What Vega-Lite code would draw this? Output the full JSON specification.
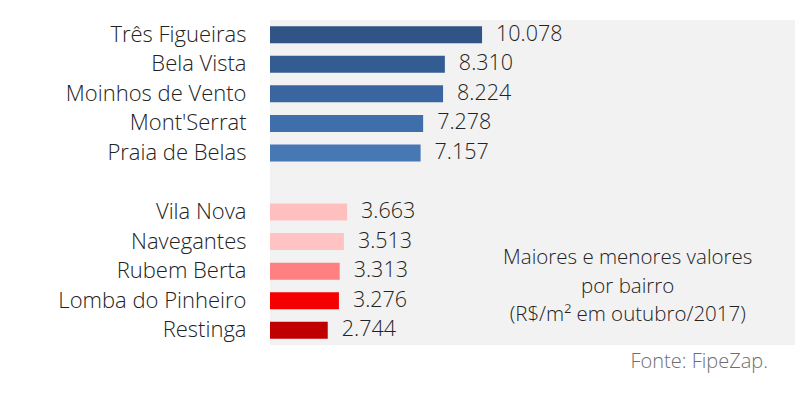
{
  "$schema": "https://vega.github.io/schema/vega-lite/v6.json",
  "width": 525,
  "height": 325,
  "padding": {"left": 270, "top": 20, "right": 5, "bottom": 50},
  "autosize": {"type": "none"},
  "background": "#ffffff",
  "config": {
    "view": {"fill": "#f2f2f2", "stroke": null},
    "font": "Open Sans",
    "locale": {"number": {"decimal": ",", "thousands": ".", "grouping": [3], "currency": ["R$", ""]}}
  },
  "title": {
    "text": "Fonte: FipeZap.",
    "orient": "bottom",
    "anchor": "end",
    "fontSize": 20,
    "fontWeight": 300,
    "color": "#6e6e6e",
    "offset": 7,
    "dx": -27
  },
  "data": {
    "values": [
      {"bairro": "Três Figueiras", "valor": 10078},
      {"bairro": "Bela Vista", "valor": 8310},
      {"bairro": "Moinhos de Vento", "valor": 8224},
      {"bairro": "Mont'Serrat", "valor": 7278},
      {"bairro": "Praia de Belas", "valor": 7157},
      {"bairro": "Vila Nova", "valor": 3663},
      {"bairro": "Navegantes", "valor": 3513},
      {"bairro": "Rubem Berta", "valor": 3313},
      {"bairro": "Lomba do Pinheiro", "valor": 3276},
      {"bairro": "Restinga", "valor": 2744}
    ]
  },
  "encoding": {
    "y": {
      "field": "bairro",
      "type": "nominal",
      "scale": {
        "domain": ["Três Figueiras", "Bela Vista", "Moinhos de Vento", "Mont'Serrat", "Praia de Belas", " ", "Vila Nova", "Navegantes", "Rubem Berta", "Lomba do Pinheiro", "Restinga"],
        "paddingInner": 0.425,
        "paddingOuter": 0.2125
      },
      "axis": {
        "title": null,
        "domain": false,
        "ticks": false,
        "labelFontSize": 22,
        "labelFontWeight": 300,
        "labelColor": "#222222",
        "labelPadding": 24,
        "labelLimit": 300
      }
    },
    "x": {
      "field": "valor",
      "type": "quantitative",
      "scale": {"domain": [0, 24950]},
      "axis": null
    }
  },
  "layer": [
    {
      "mark": {"type": "bar"},
      "encoding": {
        "color": {
          "field": "bairro",
          "type": "nominal",
          "legend": null,
          "scale": {
            "domain": ["Três Figueiras", "Bela Vista", "Moinhos de Vento", "Mont'Serrat", "Praia de Belas", "Vila Nova", "Navegantes", "Rubem Berta", "Lomba do Pinheiro", "Restinga"],
            "range": ["#2f5485", "#335c93", "#3966a0", "#3f6fab", "#4678b4", "#ffbfbf", "#ffc3c3", "#ff8080", "#f50000", "#c00000"]
          }
        }
      }
    },
    {
      "mark": {"type": "text", "align": "left", "baseline": "middle", "dx": 14, "fontSize": 21.5, "fontWeight": 300, "color": "#222222"},
      "encoding": {
        "text": {"field": "valor", "type": "quantitative", "format": ",d"}
      }
    },
    {
      "transform": [{"filter": "datum.bairro == 'Rubem Berta'"}],
      "mark": {
        "type": "text",
        "align": "center",
        "baseline": "middle",
        "fontSize": 20.5,
        "fontWeight": 300,
        "lineHeight": 28.5,
        "color": "#222222",
        "dy": -13,
        "text": ["Maiores e menores valores", "por bairro", "(R$/m² em outubro/2017)"]
      },
      "encoding": {
        "x": {"datum": 17000, "type": "quantitative"},
        "y": {"datum": "Rubem Berta", "type": "nominal"}
      }
    }
  ]
}
